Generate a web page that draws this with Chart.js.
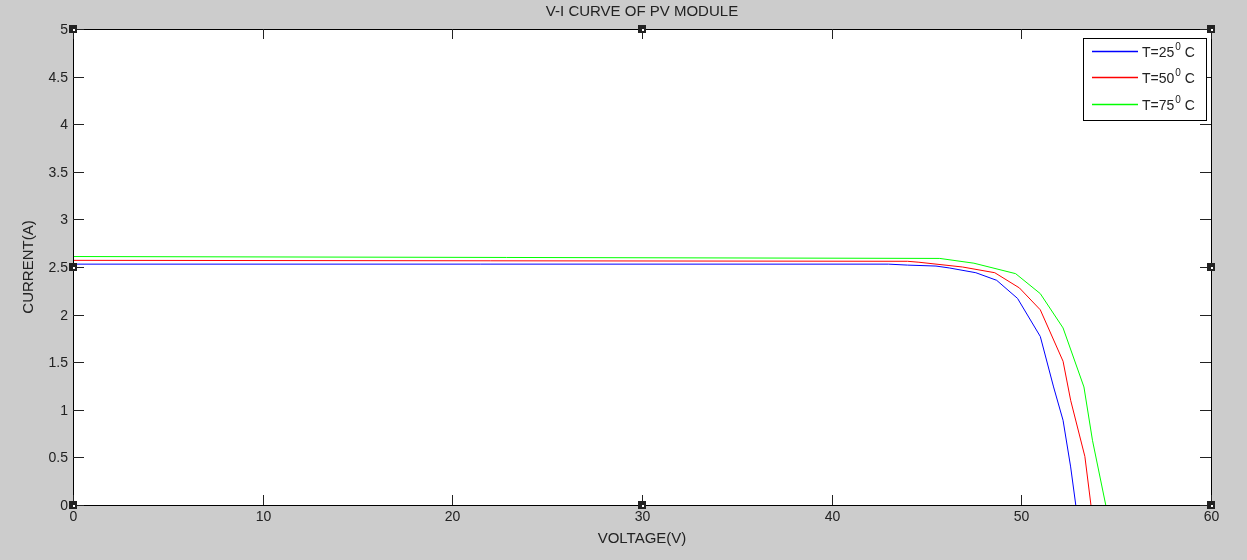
<!DOCTYPE html>
<html>
<head>
<meta charset="utf-8">
<script src="https://cdn.jsdelivr.net/npm/chart.js@4/dist/chart.umd.min.js"></script>
<style>
  html, body { margin: 0; padding: 0; background: #cccccc; }
  #wrap { width: 1247px; height: 560px; }
</style>
</head>
<body>
<div id="wrap"><canvas id="pvChart" width="1247" height="560"></canvas></div>
<script>
// V-I data (voltage in V, current in A)
var labels = ["T=25\u2070 C", "T=50\u2070 C", "T=75\u2070 C"];
var colors = ["#0000ff", "#ff0000", "#00ff00"];

var v25 = [0, 43, 44, 45.5, 46.2, 47.6, 48.7, 49.8, 51.0, 51.7, 52.2, 52.6, 52.87];
var i25 = [2.53, 2.53, 2.52, 2.51, 2.49, 2.44, 2.36, 2.17, 1.77, 1.24, 0.89, 0.40, 0];

var v50 = [0, 44, 44.6, 46.9, 48.6, 49.9, 51.0, 52.2, 52.6, 53.35, 53.67];
var i50 = [2.57, 2.56, 2.55, 2.50, 2.44, 2.28, 2.05, 1.51, 1.10, 0.51, 0];

var v75 = [0, 45.7, 47.5, 49.7, 51.0, 52.2, 53.3, 53.75, 54.45];
var i75 = [2.61, 2.59, 2.54, 2.43, 2.22, 1.86, 1.24, 0.68, 0];

var xTicks = [0, 10, 20, 30, 40, 50, 60];
var yTicks = [0, 0.5, 1, 1.5, 2, 2.5, 3, 3.5, 4, 4.5, 5];

function toPoints(vs, is) {
  var pts = [];
  for (var i in vs) {
    pts.push({ x: vs[i], y: is[i] });
  }
  return pts;
}

var series = [toPoints(v25, i25), toPoints(v50, i50), toPoints(v75, i75)];
var datasets = [];
for (var k = 0; k < series.length; k++) {
  datasets.push({
    label: labels[k],
    data: series[k],
    borderColor: colors[k],
    backgroundColor: colors[k],
    borderWidth: 1,
    pointRadius: 0,
    showLine: true,
    fill: false
  });
}

var FAMILY = '"Liberation Sans", Arial, sans-serif';
var TICK_FONT = '14px ' + FAMILY;
var LABEL_FONT = '15px ' + FAMILY;

// matlab-like frame: box, inward ticks, labels, title, legend, edit handles
var matlabFrame = {
  id: 'matlabFrame',
  beforeDraw: function(chart) {
    var c = chart.ctx, a = chart.chartArea;
    c.save();
    c.fillStyle = '#ffffff';
    c.fillRect(a.left, a.top, a.right - a.left, a.bottom - a.top);
    c.restore();
  },
  afterDraw: function(chart) {
    var c = chart.ctx, a = chart.chartArea;
    var xs = chart.scales.x, ys = chart.scales.y;
    c.save();
    c.strokeStyle = '#000000';
    c.lineWidth = 1;
    c.strokeRect(Math.round(a.left) + 0.5, Math.round(a.top) + 0.5,
                 Math.round(a.right - a.left), Math.round(a.bottom - a.top));

    c.strokeStyle = '#222222';
    c.fillStyle = '#222222';
    c.font = TICK_FONT;
    // x ticks
    c.textAlign = 'center';
    c.textBaseline = 'top';
    xTicks.forEach(function(t) {
      var px = Math.round(xs.getPixelForValue(t)) + 0.5;
      c.beginPath();
      c.moveTo(px, a.bottom); c.lineTo(px, a.bottom - 10);
      c.moveTo(px, a.top); c.lineTo(px, a.top + 10);
      c.stroke();
      c.fillText(String(t), px, a.bottom + 5);
    });
    // y ticks
    c.textAlign = 'right';
    c.textBaseline = 'middle';
    yTicks.forEach(function(t) {
      var py = Math.round(ys.getPixelForValue(t)) + 0.5;
      c.beginPath();
      c.moveTo(a.left, py); c.lineTo(a.left + 11, py);
      c.moveTo(a.right, py); c.lineTo(a.right - 11, py);
      c.stroke();
      c.fillText(String(t), a.left - 5, py + 1);
    });

    // title and axis labels
    c.font = LABEL_FONT;
    c.textAlign = 'center';
    c.textBaseline = 'middle';
    c.fillText('V-I CURVE OF PV MODULE', (a.left + a.right) / 2, 12);
    c.fillText('VOLTAGE(V)', (a.left + a.right) / 2, 539);
    c.save();
    c.translate(29, (a.top + a.bottom) / 2);
    c.rotate(-Math.PI / 2);
    c.fillText('CURRENT(A)', 0, 0);
    c.restore();

    // legend box
    var lx = 1083, ly = 38, lw = 123, lh = 82;
    c.fillStyle = '#ffffff';
    c.fillRect(lx, ly, lw, lh);
    c.strokeStyle = '#000000';
    c.strokeRect(lx + 0.5, ly + 0.5, lw, lh);
    c.textAlign = 'left';
    c.textBaseline = 'middle';
    var dsets = chart.data.datasets;
    for (var k = 0; k < dsets.length; k++) {
      var yy = Math.round(ly + 13 + k * 26.3);
      c.strokeStyle = dsets[k].borderColor;
      c.lineWidth = 1.4;
      c.beginPath();
      c.moveTo(lx + 9, yy + 0.5);
      c.lineTo(lx + 55, yy + 0.5);
      c.stroke();
      c.lineWidth = 1;
      var parts = dsets[k].label.split('\u2070');
      var tx = lx + 59;
      c.fillStyle = '#222222';
      c.font = TICK_FONT;
      c.fillText(parts[0], tx, yy + 2);
      tx += c.measureText(parts[0]).width + 1;
      c.font = '10px ' + FAMILY;
      c.fillText('0', tx, yy - 4);
      tx += c.measureText('0').width;
      c.font = TICK_FONT;
      c.fillText(parts[1], tx, yy + 2);
    }

    // edit handles
    var hx = [a.left, (a.left + a.right) / 2, a.right];
    var hy = [a.top, (a.top + a.bottom) / 2, a.bottom];
    hx.forEach(function(x, i) {
      hy.forEach(function(y, j) {
        if (i === 1 && j === 1) return;
        var sx = Math.round(x) - 4, sy = Math.round(y) - 4;
        c.fillStyle = '#222222';
        c.fillRect(sx, sy, 8, 8);
        c.fillStyle = '#ffffff';
        c.fillRect(sx + 4, sy + 4, 2, 2);
      });
    });
    c.restore();
  }
};

var ctx = document.getElementById("pvChart");
var pvChart = new Chart(ctx, {
  type: 'scatter',
  data: { datasets: datasets },
  options: {
    responsive: false,
    animation: false,
    layout: { padding: { top: 29, right: 36, left: 0, bottom: 0 } },
    plugins: {
      legend: { display: false },
      tooltip: { enabled: false },
      title: { display: false }
    },
    scales: {
      x: {
        type: 'linear', min: 0, max: 60,
        grid: { display: false, drawTicks: false },
        border: { display: false },
        ticks: { display: false },
        afterFit: function(s) { s.height = 55; }
      },
      y: {
        type: 'linear', min: 0, max: 5,
        grid: { display: false, drawTicks: false },
        border: { display: false },
        ticks: { display: false },
        afterFit: function(s) { s.width = 73; }
      }
    }
  },
  plugins: [matlabFrame]
});
</script>
</body>
</html>
